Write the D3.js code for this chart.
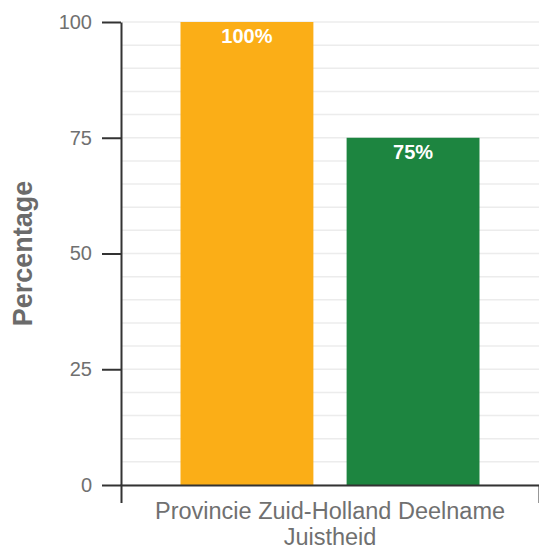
<!DOCTYPE html>
<html><head><meta charset="utf-8">
<script src="https://cdn.jsdelivr.net/npm/d3@7"></script>
<style>body{margin:0;background:#fff}svg{display:block;font-family:"Liberation Sans",Arial,sans-serif}</style>
</head><body><svg id="c" width="539" height="550"></svg>
<script>
const categories = ["Provincie Zuid-Holland Deelname Juistheid"];
const series = ["Deelname", "Juistheid"];
const values = [100, 75];
const colors = ["#fbae17", "#1d8540"];
const yTicks = [0, 25, 50, 75, 100];

const svg = d3.select("#c");
const mLeft = 121, mRight = 539, mTop = 22, mBottom = 485;
const y = d3.scaleLinear().domain([0, 100]).range([mBottom, mTop]);
const x0 = d3.scaleBand().domain(categories).range([mLeft, mRight]).padding(0.166);
const x1 = d3.scaleBand().domain(series).range([0, x0.bandwidth()]).paddingInner(0.2).paddingOuter(0);

// gridlines
svg.append("g").selectAll("line").data(d3.range(0, 101, 5)).join("line")
  .attr("x1", mLeft + 1).attr("x2", mRight).attr("y1", d => y(d)).attr("y2", d => y(d))
  .attr("stroke", "#ececec").attr("stroke-width", 1.5);

// bars
const g = svg.append("g").attr("transform", `translate(${x0(categories[0])},0)`);
g.selectAll("rect").data(values).join("rect")
  .attr("x", (d, i) => x1(series[i])).attr("width", x1.bandwidth())
  .attr("y", d => y(d)).attr("height", d => mBottom - y(d))
  .attr("fill", (d, i) => colors[i]);
g.selectAll("text").data(values).join("text")
  .attr("x", (d, i) => x1(series[i]) + x1.bandwidth() / 2)
  .attr("y", d => y(d) + 21)
  .attr("text-anchor", "middle").attr("fill", "#fff").attr("font-weight", "bold")
  .attr("font-size", 20).text(d => d + "%");

// y axis
const ya = svg.append("g").attr("transform", `translate(${mLeft},0)`)
  .call(d3.axisLeft(y).tickValues(yTicks).tickSize(19).tickSizeOuter(0).tickPadding(10));
ya.select(".domain").attr("stroke", "#333").attr("stroke-width", 2);
ya.selectAll(".tick line").attr("stroke", "#333").attr("stroke-width", 2);
ya.selectAll(".tick text").attr("fill", "#707070").attr("font-size", 20).attr("font-family", "Liberation Sans, Arial, sans-serif");

// x axis
const xa = svg.append("g").attr("transform", `translate(0,${mBottom})`)
  .call(d3.axisBottom(x0).tickSize(0).tickSizeOuter(18).tickFormat(""));
xa.select(".domain").attr("stroke", "#333").attr("stroke-width", 2);

// x category label (wrapped)
const cx = x0(categories[0]) + x0.bandwidth() / 2;
const lbl = svg.append("text").attr("text-anchor", "middle").attr("fill", "#707070").attr("font-size", 23.5);
lbl.append("tspan").attr("x", cx).attr("y", 519).text("Provincie Zuid-Holland Deelname");
lbl.append("tspan").attr("x", cx).attr("y", 545).text("Juistheid");

// y title
svg.append("text").attr("transform", `translate(32,${(mTop + mBottom) / 2}) rotate(-90)`)
  .attr("text-anchor", "middle").attr("fill", "#6b6b6b").attr("font-weight", "bold")
  .attr("font-size", 27).text("Percentage");
</script></body></html>
